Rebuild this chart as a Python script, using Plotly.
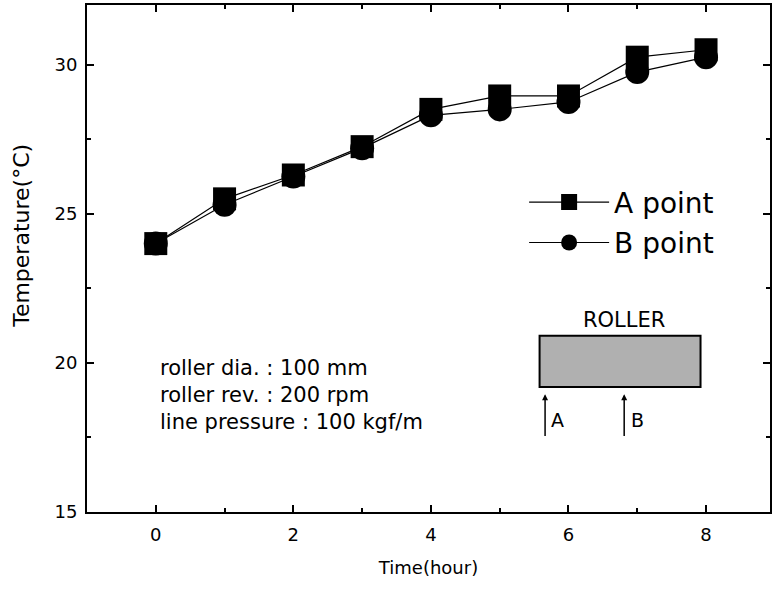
import plotly.graph_objects as go

time_hours = [0, 1, 2, 3, 4, 5, 6, 7, 8]
temp_a_point = [24.0, 25.5, 26.3, 27.25, 28.5, 28.95, 28.95, 30.25, 30.5]
temp_b_point = [24.0, 25.3, 26.25, 27.2, 28.3, 28.5, 28.75, 29.75, 30.25]
series_names = ["A point", "B point"]
x_tick_values = [0, 2, 4, 6, 8]
y_tick_values = [15, 20, 25, 30]
condition_lines = ["roller dia. : 100 mm", "roller rev. : 200 rpm", "line pressure : 100 kgf/m"]

FONT = "DejaVu Sans, Liberation Sans, Arial, sans-serif"

fig = go.Figure()
fig.add_trace(go.Scatter(
    x=time_hours, y=temp_a_point, name=series_names[0], mode="lines+markers",
    line=dict(color="black", width=1.2),
    marker=dict(symbol="square", size=23, color="black"),
    legendgroup="a",
))
fig.add_trace(go.Scatter(
    x=time_hours, y=temp_b_point, name=series_names[1], mode="lines+markers",
    line=dict(color="black", width=1.2),
    marker=dict(symbol="circle", size=24, color="black"),
    legendgroup="b",
))

axis_common = dict(
    showline=True, linecolor="black", linewidth=2, mirror="allticks",
    ticks="inside", ticklen=7, tickwidth=2, tickcolor="black",
    showgrid=False, zeroline=False,
    tickfont=dict(family=FONT, size=18, color="black"),
)

fig.update_xaxes(
    range=[-1, 8.93], tickvals=x_tick_values, ticklabelstandoff=5,
    minor=dict(ticks="inside", ticklen=4, tickwidth=2, tickcolor="black", dtick=1, tick0=0),
    title=dict(text="Time(hour)", font=dict(family=FONT, size=18, color="black"), standoff=18),
    **axis_common,
)
fig.update_yaxes(
    range=[15, 32], tickvals=y_tick_values, ticklabelstandoff=4,
    minor=dict(ticks="inside", ticklen=4, tickwidth=2, tickcolor="black", dtick=2.5, tick0=15),
    **axis_common,
)

annotations = [
    dict(text="Temperature(°C)", xref="paper", yref="paper",
         x=-0.095, y=0.545, textangle=-90, showarrow=False,
         font=dict(family=FONT, size=22, color="black"), xanchor="center", yanchor="middle"),
    dict(text="ROLLER", x=6.80, y=21.45, showarrow=False,
         font=dict(family=FONT, size=21, color="black")),
    dict(text="A", x=5.84, y=18.1, showarrow=False,
         font=dict(family=FONT, size=19, color="black")),
    dict(text="B", x=7.0, y=18.1, showarrow=False,
         font=dict(family=FONT, size=19, color="black")),
    dict(x=5.66, y=18.95, ax=5.66, ay=17.5, axref="x", ayref="y",
         showarrow=True, arrowhead=2, arrowsize=0.8, arrowwidth=1.5, arrowcolor="black", text=""),
    dict(x=6.81, y=18.95, ax=6.81, ay=17.5, axref="x", ayref="y",
         showarrow=True, arrowhead=2, arrowsize=0.8, arrowwidth=1.5, arrowcolor="black", text=""),
]
for i, line in enumerate(condition_lines):
    annotations.append(dict(
        text=line, x=0.03, y=19.83 - i * 0.905, xanchor="left", showarrow=False,
        font=dict(family=FONT, size=21, color="black"),
    ))

shapes = [
    dict(type="rect", x0=5.58, x1=7.92, y0=19.19, y1=20.91,
         line=dict(color="black", width=2), fillcolor="#b0b0b0", layer="above"),
]

fig.update_layout(
    width=773, height=596,
    margin=dict(l=87, r=1, t=5, b=84),
    paper_bgcolor="white", plot_bgcolor="white",
    font=dict(family=FONT, color="black"),
    showlegend=True,
    legend=dict(
        x=0.64, y=0.66, xanchor="left", yanchor="top",
        font=dict(family=FONT, size=28, color="black"),
        bgcolor="rgba(0,0,0,0)", tracegroupgap=1, traceorder="grouped",
        itemwidth=80,
    ),
    annotations=annotations,
    shapes=shapes,
)

fig.write_html(
    "out.html",
    config={"displayModeBar": False},
    post_script="document.body.style.margin='0';document.body.style.overflow='hidden';",
)
